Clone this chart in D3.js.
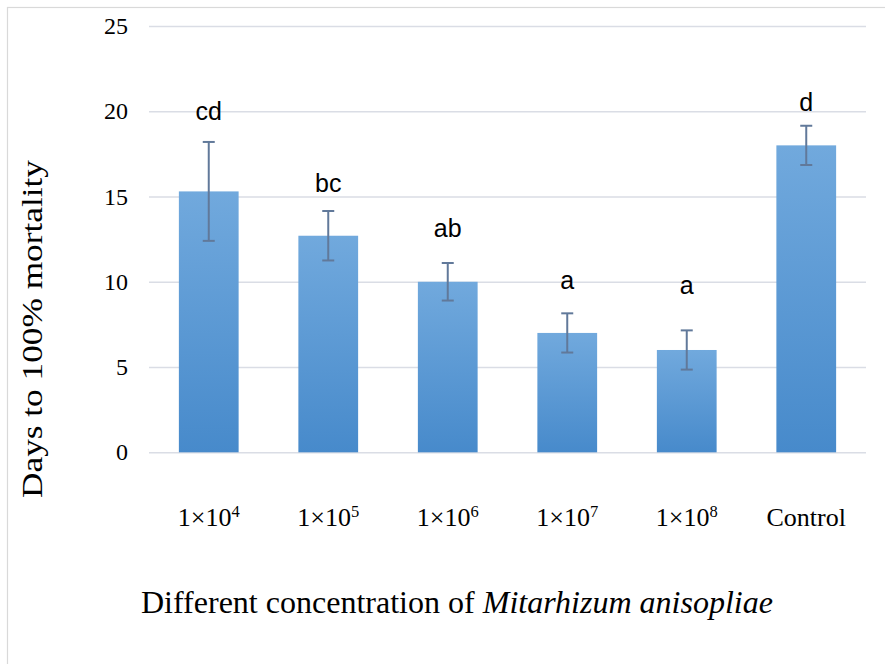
<!DOCTYPE html>
<html>
<head>
<meta charset="utf-8">
<script src="https://cdn.jsdelivr.net/npm/d3@7"></script>
<style>
  html, body { margin: 0; padding: 0; background: #fff; }
  svg { display: block; }
</style>
</head>
<body>
<svg id="chart" width="885" height="664"></svg>
<script>
// ---- data ----
const categoryBase = ["1×10", "1×10", "1×10", "1×10", "1×10", "Control"];
const categoryExp  = ["4", "5", "6", "7", "8", ""];
const meanDays     = [15.3, 12.7, 10.0, 7.0, 6.0, 18.0];
const errDays      = [2.9, 1.45, 1.1, 1.15, 1.15, 1.15];
const groupLetters = ["cd", "bc", "ab", "a", "a", "d"];
const letterLevel  = [19.5, 15.25, 12.6, 9.6, 9.3, 20.0];
const yTicks       = [0, 5, 10, 15, 20, 25];
const yTitle = "Days to 100% mortality";
const xTitleA = "Different concentration of ";
const xTitleB = "Mitarhizum anisopliae";

const data = meanDays.map((v, i) => ({i, v, e: errDays[i], l: groupLetters[i], ly: letterLevel[i]}));

const svg = d3.select("#chart");
const W = 885, H = 664;
const serif = "'Liberation Serif','Times New Roman',serif";

// outer frame
svg.append("rect").attr("x", 7.5).attr("y", 7.5).attr("width", W + 20).attr("height", H + 20)
  .attr("fill", "#fff").attr("stroke", "#d9d9d9").attr("stroke-width", 1.2);

const x = d3.scaleBand().domain(d3.range(data.length)).range([149, 866]).paddingInner(0.5).paddingOuter(0.25);
const y = d3.scaleLinear().domain([0, 25]).range([452.3, 26]);

// gradient
const defs = svg.append("defs");
const g = defs.append("linearGradient").attr("id", "barGrad").attr("x1", 0).attr("y1", 0).attr("x2", 0).attr("y2", 1);
g.append("stop").attr("offset", "0%").attr("stop-color", "#71a9dd");
g.append("stop").attr("offset", "100%").attr("stop-color", "#478acb");

// gridlines via axis
const yAxis = d3.axisLeft(y).tickValues(yTicks).tickSize(-(866 - 149)).tickFormat(d3.format("d")).tickPadding(21);
const ga = svg.append("g").attr("transform", "translate(149,0)").call(yAxis);
ga.select(".domain").remove();
ga.selectAll(".tick line").attr("stroke", "#dadde5").attr("stroke-width", 1.6);
ga.selectAll(".tick text").attr("font-family", serif)
  .attr("font-size", 24).attr("fill", "#000");

// bars
svg.selectAll("rect.bar").data(data).enter().append("rect").attr("class", "bar")
  .attr("x", d => x(d.i)).attr("width", x.bandwidth())
  .attr("y", d => y(d.v)).attr("height", d => y(0) - y(d.v))
  .attr("fill", "url(#barGrad)");

// error bars
const errCol = "#61799a";
const eg = svg.selectAll("g.err").data(data).enter().append("g").attr("class", "err");
const cx = d => x(d.i) + x.bandwidth() / 2;
eg.append("line").attr("x1", cx).attr("x2", cx).attr("y1", d => y(d.v + d.e)).attr("y2", d => y(d.v - d.e))
  .attr("stroke", errCol).attr("stroke-width", 2);
eg.append("line").attr("x1", d => cx(d) - 6).attr("x2", d => cx(d) + 6).attr("y1", d => y(d.v + d.e)).attr("y2", d => y(d.v + d.e))
  .attr("stroke", errCol).attr("stroke-width", 2);
eg.append("line").attr("x1", d => cx(d) - 6).attr("x2", d => cx(d) + 6).attr("y1", d => y(d.v - d.e)).attr("y2", d => y(d.v - d.e))
  .attr("stroke", errCol).attr("stroke-width", 2);

// letters
svg.selectAll("text.letter").data(data).enter().append("text").attr("class", "letter")
  .attr("x", cx).attr("y", d => y(d.ly)).attr("text-anchor", "middle")
  .attr("font-family", "'Liberation Sans', Arial, sans-serif").attr("font-size", 25).attr("fill", "#000")
  .text(d => d.l);

// x tick labels
const xl = svg.selectAll("text.xlab").data(data).enter().append("text").attr("class", "xlab")
  .attr("x", cx).attr("y", 526).attr("text-anchor", "middle")
  .attr("font-family", serif).attr("font-size", 26).attr("fill", "#000");
xl.append("tspan").text(d => categoryBase[d.i]);
xl.filter(d => categoryExp[d.i] !== "").append("tspan").attr("dy", -9).attr("font-size", 16.5).text(d => categoryExp[d.i]);

// y title
svg.append("text").attr("transform", "translate(42,329) rotate(-90)").attr("text-anchor", "middle")
  .attr("font-family", serif).attr("font-size", 30).attr("fill", "#000")
  .attr("textLength", 338).attr("lengthAdjust", "spacingAndGlyphs")
  .text(yTitle);

// x title
const xt = svg.append("text").attr("x", 457).attr("y", 613).attr("text-anchor", "middle")
  .attr("font-family", serif).attr("font-size", 31).attr("fill", "#000")
  .attr("textLength", 632).attr("lengthAdjust", "spacingAndGlyphs");
xt.append("tspan").text(xTitleA);
xt.append("tspan").attr("font-style", "italic").text(xTitleB);
</script>
</body>
</html>
